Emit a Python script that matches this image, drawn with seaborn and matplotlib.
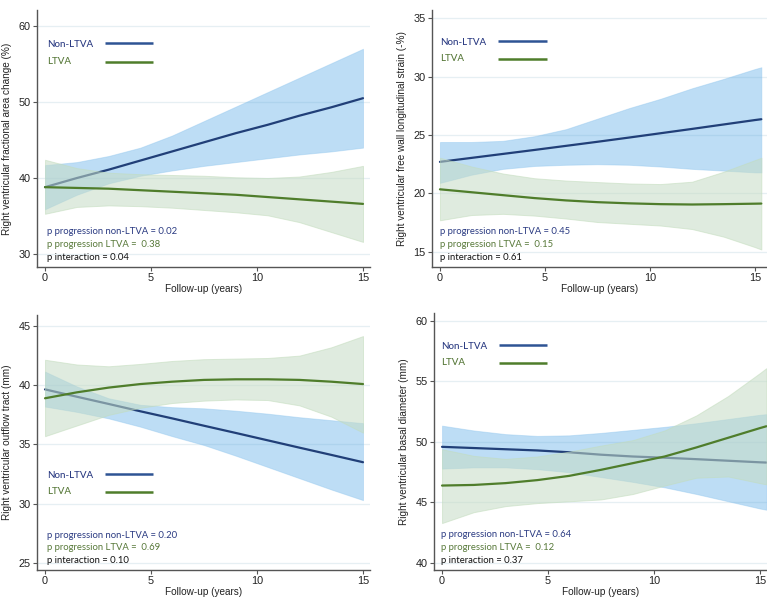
import pandas as pd
import seaborn as sns
import matplotlib.pyplot as plt

# follow-up grid (years)
x_a = [0, 1.5, 3, 4.5, 6, 7.5, 9, 10.5, 12, 13.5, 15]
x_b = [0, 1.5, 3, 4.5, 6, 7.5, 9, 10.5, 12, 13.5, 15, 15.3]
x_ticks = [0, 5, 10, 15]

# RV fractional area change (%)
fac_non = [38.8, 40.0, 41.1, 42.3, 43.5, 44.7, 45.9, 47.0, 48.2, 49.3, 50.5]
fac_non_lo = [35.9, 37.8, 39.3, 40.3, 41.0, 41.6, 42.1, 42.6, 43.1, 43.5, 44.0]
fac_non_hi = [41.7, 42.1, 42.9, 44.0, 45.6, 47.5, 49.4, 51.3, 53.2, 55.1, 57.0]
fac_ltva = [38.8, 38.7, 38.6, 38.4, 38.2, 38.0, 37.8, 37.5, 37.2, 36.9, 36.6]
fac_ltva_lo = [35.3, 36.2, 36.4, 36.3, 36.1, 35.8, 35.5, 35.1, 34.2, 32.9, 31.6]
fac_ltva_hi = [42.4, 41.3, 40.7, 40.5, 40.4, 40.3, 40.1, 40.0, 40.2, 40.8, 41.6]

# RV free wall longitudinal strain (-%)
fwls_non = [22.7, 23.04, 23.38, 23.72, 24.07, 24.42, 24.78, 25.15, 25.52, 25.9, 26.28, 26.35]
fwls_non_lo = [20.9, 21.6, 22.1, 22.35, 22.45, 22.5, 22.45, 22.3, 22.1, 21.95, 21.8, 21.8]
fwls_non_hi = [24.4, 24.4, 24.5, 24.9, 25.5, 26.4, 27.3, 28.1, 29.0, 29.8, 30.65, 30.8]
fwls_ltva = [20.35, 20.1, 19.85, 19.6, 19.4, 19.25, 19.15, 19.08, 19.05, 19.08, 19.12, 19.13]
fwls_ltva_lo = [17.7, 18.15, 18.25, 18.1, 17.85, 17.55, 17.4, 17.25, 16.95, 16.3, 15.4, 15.2]
fwls_ltva_hi = [23.05, 22.3, 21.7, 21.3, 21.1, 20.97, 20.85, 20.8, 21.0, 21.85, 22.85, 23.05]

# RV outflow tract (mm)
rvot_non = [39.65, 39.03, 38.42, 37.8, 37.2, 36.58, 35.97, 35.35, 34.73, 34.12, 33.5]
rvot_non_lo = [38.2, 37.75, 37.2, 36.5, 35.7, 34.95, 34.05, 33.1, 32.15, 31.2, 30.3]
rvot_non_hi = [41.15, 39.9, 38.9, 38.35, 38.15, 38.05, 37.85, 37.6, 37.3, 37.05, 36.8]
rvot_ltva = [38.9, 39.4, 39.8, 40.1, 40.3, 40.45, 40.5, 40.5, 40.45, 40.3, 40.1]
rvot_ltva_lo = [35.7, 36.6, 37.5, 38.1, 38.5, 38.7, 38.8, 38.75, 38.3, 37.35, 36.0]
rvot_ltva_hi = [42.15, 41.75, 41.6, 41.8, 42.05, 42.2, 42.25, 42.3, 42.5, 43.2, 44.15]

# RV basal diameter (mm)
bas_non = [49.6, 49.5, 49.4, 49.3, 49.15, 48.95, 48.8, 48.7, 48.58, 48.45, 48.32, 48.3]
bas_non_lo = [47.8, 47.9, 47.9, 47.75, 47.5, 47.1, 46.7, 46.25, 45.7, 45.1, 44.5, 44.4]
bas_non_hi = [51.35, 50.95, 50.65, 50.5, 50.55, 50.75, 51.0, 51.25, 51.55, 51.9, 52.25, 52.3]
bas_ltva = [46.4, 46.45, 46.6, 46.85, 47.2, 47.7, 48.25, 48.8, 49.55, 50.35, 51.15, 51.3]
bas_ltva_lo = [43.3, 44.2, 44.7, 44.95, 45.1, 45.25, 45.7, 46.4, 47.05, 47.15, 46.6, 46.5]
bas_ltva_hi = [49.4, 48.85, 48.6, 48.8, 49.2, 49.7, 50.15, 50.95, 52.2, 53.8, 55.7, 56.1]

p_values = [("0.02", "0.38", "0.04"), ("0.45", "0.15", "0.61"),
            ("0.20", "0.69", "0.10"), ("0.64", "0.12", "0.37")]

navy = "#213f78"
green = "#4f7d2b"
navy_txt = "#2b3b82"
green_txt = "#58793a"
blue_fill = "#5aaae6"
green_fill = "#c6dcc5"

sns.set_style("white")
plt.rcParams["font.family"] = ["Liberation Sans", "DejaVu Sans"]


def draw_panel(ax, x, non, non_lo, non_hi, ltva, ltva_lo, ltva_hi,
               ylabel, ylim, yticks, xlim, pv, leg_y, leg_x):
    df = pd.DataFrame({"years": x, "non": non, "ltva": ltva})
    ax.fill_between(x, non_lo, non_hi, color=blue_fill, alpha=0.4,
                    lw=0.7, edgecolor="#8cc4ee", zorder=1)
    sns.lineplot(data=df, x="years", y="non", ax=ax, color=navy, lw=1.6, zorder=2)
    ax.fill_between(x, ltva_lo, ltva_hi, color=green_fill, alpha=0.55,
                    lw=0.7, edgecolor="#c2dcbc", zorder=3)
    sns.lineplot(data=df, x="years", y="ltva", ax=ax, color=green, lw=1.6, zorder=4)

    ax.set_xlim(*xlim)
    ax.set_ylim(*ylim)
    ax.set_xticks(x_ticks)
    ax.set_yticks(yticks)
    ax.yaxis.grid(True, color="#e6eff3", lw=0.9)
    ax.xaxis.grid(False)
    for s in ["top", "right"]:
        ax.spines[s].set_visible(False)
    for s in ["left", "bottom"]:
        ax.spines[s].set_color("#555555")
        ax.spines[s].set_linewidth(1.0)
    ax.tick_params(axis="both", length=3, width=0.8, color="#555555",
                   labelsize=7.8, labelcolor="#222222", pad=1.5, direction="out")
    ax.tick_params(axis="x", bottom=True)
    ax.tick_params(axis="y", left=True)
    ax.set_xlabel("Follow-up (years)", fontsize=7.2, color="#222222")
    ax.set_ylabel(ylabel, fontsize=7.2, color="#222222")
    ax.xaxis.set_label_coords(0.5, -0.068)
    ax.yaxis.set_label_coords(-0.076, 0.5)

    # legend: label on the left, sample line on the right
    lab_font = dict(family=["Lato", "DejaVu Sans"], fontsize=7.0, va="center",
                    fontweight="medium", transform=ax.transAxes)
    ax.text(leg_x, leg_y[0], "Non-LTVA", color=navy_txt, **lab_font)
    ax.text(leg_x, leg_y[1], "LTVA", color=green_txt, **lab_font)
    ax.plot([leg_x + 0.174, leg_x + 0.318], [leg_y[0] + 0.006] * 2, color="#2e5494",
            lw=1.8, transform=ax.transAxes, solid_capstyle="butt")
    ax.plot([leg_x + 0.174, leg_x + 0.318], [leg_y[1] - 0.002] * 2, color=green,
            lw=1.8, transform=ax.transAxes, solid_capstyle="butt")

    p_font = dict(family=["Lato", "DejaVu Sans"], fontsize=6.8, va="center",
                  transform=ax.transAxes)
    ax.text(leg_x, 0.137, f"p progression non-LTVA = {pv[0]}", color=navy_txt, **p_font)
    ax.text(leg_x, 0.088, f"p progression LTVA =  {pv[1]}", color=green_txt, **p_font)
    ax.text(leg_x, 0.038, f"p interaction = {pv[2]}", color="#111111", **p_font)


fig = plt.figure(figsize=(7.67, 6.06), dpi=100)
ax1 = fig.add_axes([0.0482, 0.5594, 0.4342, 0.4241])
ax2 = fig.add_axes([0.5632, 0.5594, 0.4368, 0.4241])
ax3 = fig.add_axes([0.0482, 0.0594, 0.4342, 0.4208])
ax4 = fig.add_axes([0.5658, 0.0594, 0.4342, 0.4241])

draw_panel(ax1, x_a, fac_non, fac_non_lo, fac_non_hi, fac_ltva, fac_ltva_lo, fac_ltva_hi,
           "Right ventricular fractional area change (%)", (28.3, 62.1),
           [30, 40, 50, 60], (-0.38, 15.33), p_values[0], (0.866, 0.799), 0.030)
draw_panel(ax2, x_b, fwls_non, fwls_non_lo, fwls_non_hi, fwls_ltva, fwls_ltva_lo, fwls_ltva_hi,
           "Right ventricular free wall longitudinal strain (-%)", (13.7, 35.7),
           [15, 20, 25, 30, 35], (-0.38, 15.57), p_values[1], (0.874, 0.811), 0.024)
draw_panel(ax3, x_a, rvot_non, rvot_non_lo, rvot_non_hi, rvot_ltva, rvot_ltva_lo, rvot_ltva_hi,
           "Right ventricular outflow tract (mm)", (24.4, 45.93),
           [25, 30, 35, 40, 45], (-0.38, 15.33), p_values[2], (0.370, 0.309), 0.030)
draw_panel(ax4, x_b, bas_non, bas_non_lo, bas_non_hi, bas_ltva, bas_ltva_lo, bas_ltva_hi,
           "Right ventricular basal diameter (mm)", (39.42, 60.66),
           [40, 45, 50, 55, 60], (-0.38, 15.33), p_values[3], (0.870, 0.809), 0.021)

fig.savefig("out.png", dpi=100)
